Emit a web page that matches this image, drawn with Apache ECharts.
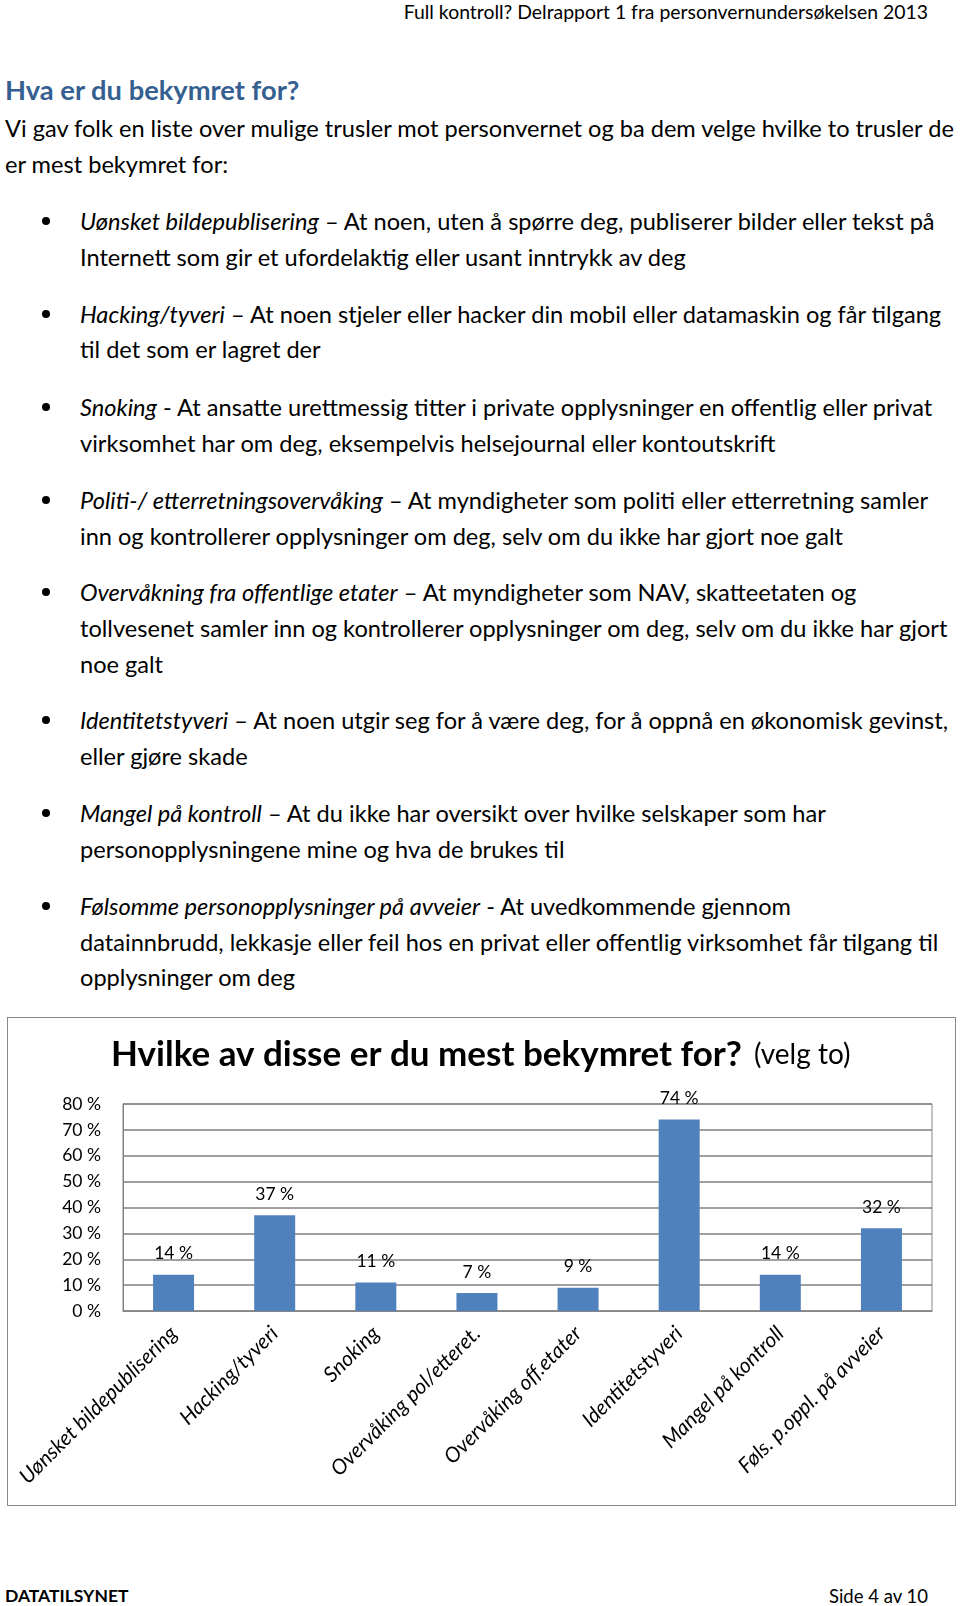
<!DOCTYPE html>
<html>
<head>
<meta charset="utf-8">
<script src="https://cdn.jsdelivr.net/npm/echarts@6/dist/echarts.min.js"></script>
<style>
  html, body { margin: 0; padding: 0; background: #fff; }
  body { width: 960px; height: 1606px; position: relative; overflow: hidden;
         font-family: Lato, "Open Sans", sans-serif; color: #000; }
  .ln { position: absolute; white-space: nowrap; font-size: 23.6px; line-height: 36px; height: 36px; }
  .hd { right: 32px; font-size: 19.4px; }
  .h1 { left: 5px; font-size: 27.3px; font-weight: bold; color: #365f91; }
  .bul { position: absolute; left: 42px; width: 8px; height: 8px; border-radius: 50%; background: #000; }
  .in { left: 80px; }
  i { font-style: italic; }
  #box { position: absolute; left: 7px; top: 1017px; width: 947px; height: 487px; border: 1.5px solid #8a8a8a; }
  #chart { width: 947px; height: 487px; }
</style>
</head>
<body>
<div class="ln hd" style="top:-6px">Full kontroll? Delrapport 1 fra personvernundersøkelsen 2013</div>
<div class="ln h1" style="top:72px">Hva er du bekymret for?</div>
<div class="ln" style="top:110px;left:5px">Vi gav folk en liste over mulige trusler mot personvernet og ba dem velge hvilke to trusler de</div>
<div class="ln" style="top:146px;left:5px">er mest bekymret for:</div>

<div class="bul" style="top:217px"></div>
<div class="ln in" style="top:203px"><i>Uønsket bildepublisering</i> – At noen, uten å spørre deg, publiserer bilder eller tekst på</div>
<div class="ln in" style="top:239px">Internett som gir et ufordelaktig eller usant inntrykk av deg</div>

<div class="bul" style="top:310px"></div>
<div class="ln in" style="top:296px"><i>Hacking/tyveri</i> – At noen stjeler eller hacker din mobil eller datamaskin og får tilgang</div>
<div class="ln in" style="top:331px">til det som er lagret der</div>

<div class="bul" style="top:403px"></div>
<div class="ln in" style="top:389px"><i>Snoking</i> - At ansatte urettmessig titter i private opplysninger en offentlig eller privat</div>
<div class="ln in" style="top:425px">virksomhet har om deg, eksempelvis helsejournal eller kontoutskrift</div>

<div class="bul" style="top:496px"></div>
<div class="ln in" style="top:482px"><i>Politi-/ etterretningsovervåking</i> – At myndigheter som politi eller etterretning samler</div>
<div class="ln in" style="top:518px">inn og kontrollerer opplysninger om deg, selv om du ikke har gjort noe galt</div>

<div class="bul" style="top:588px"></div>
<div class="ln in" style="top:574px"><i>Overvåkning fra offentlige etater</i> – At myndigheter som NAV, skatteetaten og</div>
<div class="ln in" style="top:610px">tollvesenet samler inn og kontrollerer opplysninger om deg, selv om du ikke har gjort</div>
<div class="ln in" style="top:646px">noe galt</div>

<div class="bul" style="top:716px"></div>
<div class="ln in" style="top:702px"><i>Identitetstyveri</i> – At noen utgir seg for å være deg, for å oppnå en økonomisk gevinst,</div>
<div class="ln in" style="top:738px">eller gjøre skade</div>

<div class="bul" style="top:809px"></div>
<div class="ln in" style="top:795px"><i>Mangel på kontroll</i> – At du ikke har oversikt over hvilke selskaper som har</div>
<div class="ln in" style="top:831px">personopplysningene mine og hva de brukes til</div>

<div class="bul" style="top:902px"></div>
<div class="ln in" style="top:888px"><i>Følsomme personopplysninger på avveier</i> - At uvedkommende gjennom</div>
<div class="ln in" style="top:924px">datainnbrudd, lekkasje eller feil hos en privat eller offentlig virksomhet får tilgang til</div>
<div class="ln in" style="top:959px">opplysninger om deg</div>

<div id="box"><div id="chart"></div></div>

<div class="ln" style="top:1578px;left:5px;font-size:17.5px;font-weight:bold">DATATILSYNET</div>
<div class="ln" style="top:1578px;right:32px;font-size:18.5px">Side 4 av 10</div>

<script>
  var categories = ['Uønsket bildepublisering', 'Hacking/tyveri', 'Snoking', 'Overvåking pol/etteret.',
                    'Overvåking off.etater', 'Identitetstyveri', 'Mangel på kontroll', 'Føls. p.oppl. på avveier'];
  var values = [14, 37, 11, 7, 9, 74, 14, 32];
  var yMax = 80;
  var yStep = 10;

  var fontFam = 'Lato, "Open Sans", sans-serif';
  var myChart = echarts.init(document.getElementById('chart'));
  var option = {
    animation: false,
    textStyle: { fontFamily: fontFam },
    title: {
      text: '{b|Hvilke av disse er du mest bekymret for?}{n|(velg to)}',
      left: 98,
      top: 14,
      textStyle: {
        rich: {
          b: { fontSize: 35, fontWeight: 'bold', color: '#000', fontFamily: fontFam },
          n: { fontSize: 28, fontWeight: 'normal', color: '#000', fontFamily: fontFam, padding: [0, 0, 0, 12] }
        }
      }
    },
    grid: { left: 115, right: 23, top: 86, bottom: 194, show: true, borderColor: '#868686', borderWidth: 1 },
    xAxis: {
      type: 'category',
      data: categories,
      axisTick: { show: false },
      axisLine: { lineStyle: { color: '#868686' } },
      axisLabel: { interval: 0, rotate: 45, margin: 19, fontSize: 21, fontStyle: 'italic', color: '#000' }
    },
    yAxis: {
      type: 'value',
      min: 0,
      max: yMax,
      interval: yStep,
      axisLine: { show: true, lineStyle: { color: '#7f7f7f' } },
      axisTick: { show: false },
      splitLine: { lineStyle: { color: '#7f7f7f', width: 1.5 } },
      axisLabel: { formatter: '{value} %', fontSize: 17.5, color: '#000', margin: 22 }
    },
    series: [{
      type: 'bar',
      data: values,
      barWidth: 41,
      itemStyle: { color: '#4f81bd' },
      label: { show: true, position: 'top', distance: 12, formatter: '{c} %', fontSize: 17.5, color: '#000' }
    }]
  };
  myChart.setOption(option);
</script>
</body>
</html>
